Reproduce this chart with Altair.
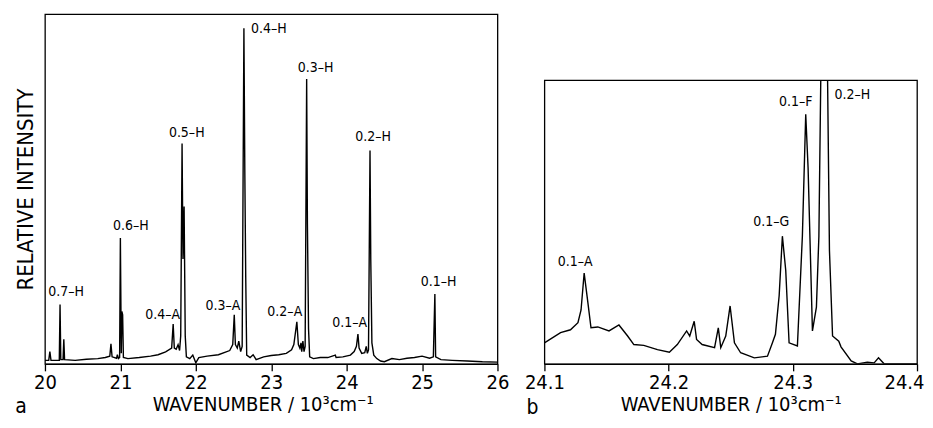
import altair as alt
import pandas as pd

# ---------------- Panel a: overview spectrum ----------------
a_wn = [20.00, 20.05, 20.065, 20.08, 20.19, 20.20, 20.21, 20.24, 20.25, 20.26,
        20.40, 20.55, 20.70, 20.80, 20.86, 20.875, 20.89, 20.95, 20.96, 20.975,
        20.99, 21.00, 21.012, 21.02, 21.03, 21.04, 21.10, 21.25, 21.40, 21.50,
        21.60, 21.68, 21.70, 21.715, 21.74, 21.765, 21.785, 21.80, 21.818, 21.83,
        21.845, 21.86, 21.875, 21.92, 21.96, 22.00, 22.04, 22.15, 22.30, 22.45,
        22.49, 22.51, 22.525, 22.55, 22.57, 22.595, 22.615, 22.638, 22.65, 22.662,
        22.675, 22.72, 22.76, 22.80, 22.90, 23.00, 23.10, 23.20, 23.27, 23.30,
        23.34, 23.36, 23.38, 23.395, 23.405, 23.42, 23.435, 23.45, 23.47, 23.48,
        23.495, 23.51, 23.56, 23.65, 23.75, 23.85, 23.86, 23.95, 24.05, 24.10,
        24.13, 24.15, 24.165, 24.20, 24.24, 24.26, 24.275, 24.29, 24.31, 24.32,
        24.335, 24.36, 24.40, 24.45, 24.50, 24.60, 24.70, 24.80, 24.90, 25.00,
        25.10, 25.15, 25.17, 25.18, 25.25, 25.40, 25.60, 25.80, 26.00]
a_int = [1.0, 1.0, 3.5, 1.0, 1.0, 17.0, 1.2, 1.2, 7.0, 1.2,
         1.0, 1.3, 1.5, 1.8, 2.2, 5.7, 2.0, 1.6, 2.6, 1.5,
         1.8, 36.0, 3.0, 15.0, 14.0, 1.8, 1.5, 1.8, 2.2, 2.6,
         3.4, 4.5, 11.4, 4.5, 4.2, 5.5, 3.8, 8.0, 63.0, 30.0,
         45.0, 8.0, 2.0, 1.5, 2.5, 0.3, 1.8, 2.2, 2.6, 3.8,
         5.5, 14.0, 5.5, 4.5, 6.5, 3.5, 5.0, 96.0, 55.0, 25.0,
         2.5, 1.8, 2.6, 1.2, 2.0, 2.4, 2.6, 3.0, 4.0, 5.5,
         12.0, 5.5, 4.5, 6.0, 3.5, 6.5, 3.5, 5.0, 81.5, 40.0,
         10.0, 2.0, 1.5, 1.8, 1.8, 2.5, 1.8, 2.0, 2.5, 3.5,
         5.0, 8.5, 4.5, 3.0, 3.2, 5.0, 3.0, 4.0, 61.0, 30.0,
         6.0, 2.5, 1.5, 0.8, 0.6, 1.5, 1.2, 1.6, 1.8, 2.2,
         1.6, 2.0, 20.0, 2.0, 1.2, 1.0, 0.8, 0.6, 0.5]

a_labels = ["0.7–H", "0.6–H", "0.4–A", "0.5–H", "0.3–A", "0.4–H",
            "0.2–A", "0.3–H", "0.1–A", "0.2–H", "0.1–H"]
a_label_x = [20.28, 21.14, 21.56, 21.88, 22.36, 22.97, 23.18, 23.59, 24.04, 24.35, 25.22]
a_label_y = [19.3, 38.4, 12.8, 64.8, 15.3, 94.7, 13.6, 83.5, 10.5, 63.6, 22.2]
a_ticks = [20, 21, 22, 23, 24, 25, 26]

# ---------------- Panel b: zoomed region ----------------
b_wn = [24.100, 24.113, 24.121, 24.127, 24.1295, 24.132, 24.135, 24.1375, 24.143, 24.152,
        24.160, 24.167, 24.172, 24.180, 24.191, 24.2006, 24.207, 24.2145, 24.217, 24.2206,
        24.2225, 24.227, 24.237, 24.240, 24.242, 24.246, 24.2495, 24.253, 24.258, 24.269,
        24.2796, 24.2836, 24.286, 24.289, 24.2916, 24.2943, 24.297, 24.3037, 24.3077, 24.3104,
        24.3123, 24.3158, 24.319, 24.321, 24.3225, 24.325, 24.328, 24.3295, 24.332, 24.337,
        24.3388, 24.347, 24.352, 24.360, 24.3655, 24.369, 24.3735, 24.400]
b_int = [7.4, 11.0, 12.0, 14.5, 19.0, 32.0, 21.6, 12.7, 13.0, 11.6,
         13.7, 9.8, 6.8, 6.5, 5.0, 4.1, 6.8, 11.6, 9.8, 15.0,
         8.6, 6.8, 5.7, 12.7, 5.7, 9.8, 20.4, 7.4, 3.9, 2.1,
         2.7, 7.4, 10.4, 24.0, 45.0, 33.0, 7.4, 6.3, 45.0, 88.0,
         69.0, 11.6, 20.0, 45.0, 100.0, 300.0, 100.0, 40.0, 9.8, 8.0,
         6.0, 1.0, 0.0, 0.6, 0.35, 2.1, 0.0, 0.0]

b_labels = ["0.1–A", "0.1–G", "0.1–F", "0.2–H"]
b_label_x = [24.1247, 24.2826, 24.3024, 24.348]
b_label_y = [34.6, 48.7, 91.0, 93.3]
b_ticks = [24.1, 24.2, 24.3, 24.4]

FONT = "DejaVu Sans Condensed, DejaVu Sans"
XTITLE = "WAVENUMBER / 10³cm⁻¹"

a_df = pd.DataFrame({"wn": a_wn, "I": a_int})
a_lab = pd.DataFrame({"wn": a_label_x, "I": a_label_y, "t": a_labels})
b_df = pd.DataFrame({"wn": b_wn, "I": b_int})
b_lab = pd.DataFrame({"wn": b_label_x, "I": b_label_y, "t": b_labels})


def x_enc(domain, ticks, fmt, **extra):
    return alt.X("wn:Q",
                 scale=alt.Scale(domain=domain, nice=False, zero=False),
                 axis=alt.Axis(values=ticks, format=fmt, title=XTITLE, grid=False,
                               tickSize=7, labelFontSize=20, titleFontSize=20,
                               labelPadding=2, titlePadding=2, labelFont=FONT,
                               titleFont=FONT, titleFontWeight="normal",
                               labelFlush=False, **extra))


# Left panel
ya = alt.Y("I:Q", scale=alt.Scale(domain=[0, 100], nice=False),
           axis=alt.Axis(title="RELATIVE INTENSITY", labels=False, ticks=False,
                         domain=False, grid=False, titleFontSize=22, titleFont=FONT,
                         titleFontWeight="normal", titlePadding=7))
xa = x_enc([20, 26], a_ticks, "d", titleX=218)

left_line = alt.Chart(a_df).mark_line(color="black", strokeWidth=1.4, clip=True).encode(x=xa, y=ya)
left_text = alt.Chart(a_lab).mark_text(font=FONT, fontSize=14, baseline="alphabetic",
                                       color="black").encode(x="wn:Q", y="I:Q", text="t:N")
left_tag = alt.Chart(pd.DataFrame({"t": ["a"]})).mark_text(
    font=FONT, fontSize=21, baseline="alphabetic", color="black").encode(
    x=alt.value(-24), y=alt.value(399), text="t:N")
left = alt.layer(left_line, left_text, left_tag).properties(width=453, height=350)

# Right panel (last tick label pulled inward, as it is cut by the edge in the original)
yb = alt.Y("I:Q", scale=alt.Scale(domain=[0, 100], nice=False), axis=None)
xb = x_enc([24.1, 24.4], b_ticks, ".1f",
           labelAlign={"condition": {"test": "datum.value > 24.35", "value": "right"},
                       "value": "center"},
           labelOffset={"condition": {"test": "datum.value > 24.35", "value": 7},
                        "value": 0})
right_line = alt.Chart(b_df).mark_line(color="black", strokeWidth=1.4, clip=True).encode(x=xb, y=yb)
right_text = alt.Chart(b_lab).mark_text(font=FONT, fontSize=14, baseline="alphabetic",
                                        color="black").encode(x="wn:Q", y="I:Q", text="t:N")
right_tag = alt.Chart(pd.DataFrame({"t": ["b"]})).mark_text(
    font=FONT, fontSize=21, baseline="alphabetic", color="black").encode(
    x=alt.value(-12), y=alt.value(334), text="t:N")
right = alt.layer(right_line, right_text, right_tag).properties(width=373, height=284)

# empty spacer above the right panel so that it sits lower, as in the reference
spacer = alt.Chart(pd.DataFrame({"v": [0]})).mark_point(opacity=0, size=1).encode(
    x=alt.value(20), y=alt.value(20)
).properties(width=373, height=45, view=alt.ViewBackground(strokeOpacity=0, strokeWidth=0))

right_col = alt.vconcat(spacer, right, spacing=20)

chart = alt.hconcat(left, right_col, spacing=13).configure_view(
    stroke="black", strokeWidth=1.3
).configure_axis(
    domainColor="black", tickColor="black", labelColor="black", titleColor="black",
    domainWidth=1.3, tickWidth=1.3
).properties(background="white", padding={"left": 6, "top": 5, "right": 0, "bottom": 0})

chart.save("out.html", embed_options={"renderer": "svg", "actions": False})
